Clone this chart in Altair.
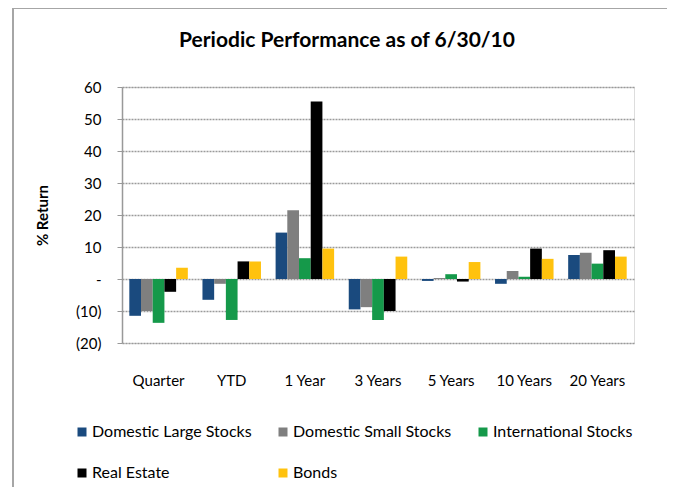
import altair as alt
import pandas as pd

categories = ["Quarter", "YTD", "1 Year", "3 Years", "5 Years", "10 Years", "20 Years"]
series = ["Domestic Large Stocks", "Domestic Small Stocks", "International Stocks", "Real Estate", "Bonds"]
large = [-11.5, -6.5, 14.5, -9.5, -0.6, -1.5, 7.5]
small = [-10.0, -1.5, 21.5, -8.8, 0.3, 2.5, 8.2]
intl = [-13.7, -12.8, 6.5, -12.8, 1.5, 0.7, 4.8]
reit = [-4.0, 5.5, 55.5, -10.0, -0.8, 9.5, 9.0]
bonds = [3.5, 5.5, 9.5, 7.0, 5.3, 6.3, 7.0]
colors = ["#1A4A7E", "#7F7F7F", "#15994A", "#000000", "#FFC20E"]

# legend is filled column by column: order entries so rows read like the original
legend_order = [series[0], series[3], series[1], series[4], series[2]]
legend_colors = [colors[0], colors[3], colors[1], colors[4], colors[2]]

rows = []
for s, vals in zip(series, [large, small, intl, reit, bonds]):
    for c, v in zip(categories, vals):
        rows.append({"period": c, "series": s, "value": v})
df = pd.DataFrame(rows)

FONT = "Lato"

bars = alt.Chart(df).mark_bar().encode(
    x=alt.X("period:N", sort=categories, scale=alt.Scale(paddingInner=0.2, paddingOuter=0.1),
            axis=alt.Axis(title=None, labelAngle=0, domain=False, ticks=False, labelPadding=30,
                          labelFontSize=15, labelColor="#000", labelFont=FONT)),
    xOffset=alt.XOffset("series:N", sort=series, scale=alt.Scale(paddingInner=0)),
    y=alt.Y("value:Q", scale=alt.Scale(domain=[-20, 60], nice=False),
            axis=alt.Axis(title="% Return", values=list(range(-20, 61, 10)),
                          labelExpr="datum.value == 0 ? '-' : (datum.value < 0 ? '(' + abs(datum.value) + ')' : datum.value)",
                          labelFontSize=15, labelColor="#000", labelFont=FONT, labelPadding=16,
                          tickSize=5, tickColor="#999", domainColor="#999", domainWidth=1.5,
                          gridColor="#9A9A9A", gridWidth=1.5, gridDash=[2, 1],
                          titleFont=FONT, titleFontSize=15, titleFontWeight="bold",
                          titleColor="#000", titleX=-72, titleY=128)),
    color=alt.Color("series:N", scale=alt.Scale(domain=legend_order, range=legend_colors),
                    legend=alt.Legend(title=None, orient="none", legendX=-48, legendY=337, columns=3,
                                      symbolType="square", symbolSize=81, symbolStrokeWidth=0,
                                      labelFontSize=16, labelFont=FONT, labelColor="#000",
                                      columnPadding=23, rowPadding=25, labelOffset=2, labelLimit=300)),
)

frame_src = pd.DataFrame({"f": [0]})
frame_top = alt.Chart(frame_src).mark_rule(stroke="#A6A6A6", strokeWidth=2).encode(
    x=alt.value(-110), x2=alt.value(545), y=alt.value(-79))
frame_left = alt.Chart(frame_src).mark_rule(stroke="#A6A6A6", strokeWidth=2).encode(
    x=alt.value(-109), y=alt.value(-80), y2=alt.value(400))

chart = alt.layer(frame_top, frame_left, bars).properties(
    width=512, height=256,
    title=alt.TitleParams("Periodic Performance as of 6/30/10", font=FONT, fontSize=21,
                          fontWeight="bold", color="#000", offset=-45, dx=-31),
    autosize=alt.AutoSizeParams(type="none"),
    padding={"left": 114, "top": 79, "right": 33, "bottom": 145},
).configure_view(stroke=None).configure(background="white")

chart.save("out.html", embed_options={"renderer": "svg", "actions": False})
